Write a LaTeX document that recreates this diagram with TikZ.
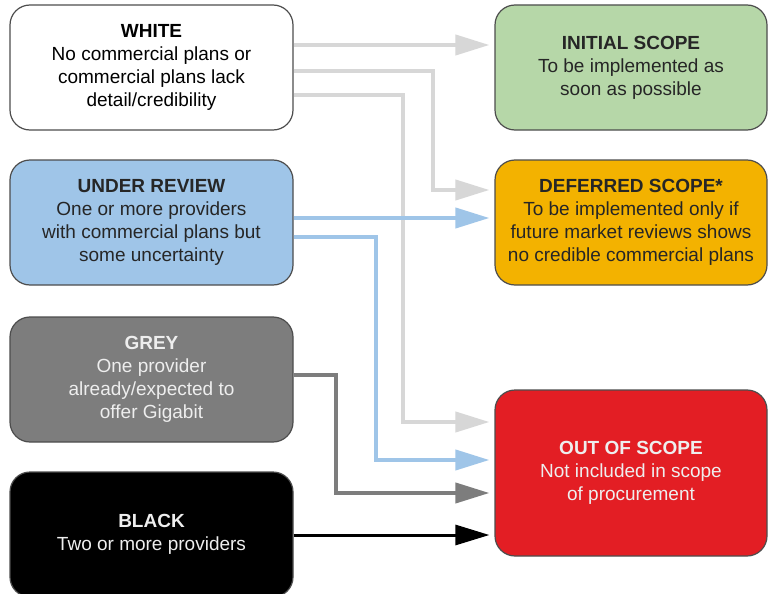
\documentclass[tikz,border=0pt]{standalone}
\usepackage{fontspec}
\setmainfont{Liberation Sans}
\usepackage{tikz}
\usetikzlibrary{arrows.meta, positioning, calc}
\definecolor{cBorder}{RGB}{77, 77, 77}
\definecolor{cWhite}{RGB}{255, 255, 255}
\definecolor{cReview}{RGB}{159, 197, 232}
\definecolor{cGrey}{RGB}{125, 125, 125}
\definecolor{cBlack}{RGB}{0, 0, 0}
\definecolor{cInit}{RGB}{182, 215, 168}
\definecolor{cDefer}{RGB}{243, 178, 0}
\definecolor{cOut}{RGB}{227, 30, 36}
\definecolor{cLight}{RGB}{215, 215, 215}
\definecolor{cPale}{RGB}{238, 238, 238}
\tikzstyle{Area}=[rectangle,
		rounded corners=20pt,
		line width=1.2pt,
		draw=cBorder,
		minimum width=283pt,
		minimum height=125pt,
		inner sep=0pt,
		align=center,
		font=\fontsize{19}{23}\selectfont]
\tikzstyle{Scope}=[Area,
		minimum width=272pt]
\tikzstyle{flow}=[-{Triangle[length=34pt,width=20pt]},shorten >=5pt]
\tikzstyle{flowLight}=[flow,line width=4pt,draw=cLight]
\tikzstyle{flowBlue}=[flow,line width=4pt,draw=cReview]
\tikzstyle{flowGrey}=[flow,line width=4pt,draw=cGrey]
\tikzstyle{flowBlack}=[flow,line width=3pt,draw=cBlack]

\begin{document}
\begin{tikzpicture}[x=1pt,y=-1pt]
  \clip (0,0) rectangle (769,594);
  \fill[white] (0,0) rectangle (769,594);

  % categories
  \node [Area,fill=cWhite] (white) at (151.5,67.5)
    {\textbf{WHITE}\\No commercial plans or\\commercial plans lack\\detail/credibility};
  \node [Area,fill=cReview,text=black!85] (review) at (151.5,222.5)
    {\textbf{UNDER REVIEW}\\One or more providers\\with commercial plans but\\some uncertainty};
  \node [Area,fill=cGrey,text=cPale] (grey) at (151.5,379.5)
    {\textbf{GREY}\\One provider\\already/expected to\\offer Gigabit};
  \node [Area,fill=cBlack,text=cPale] (black) at (151.5,534.5)
    {\textbf{BLACK}\\Two or more providers};

  % scopes
  \node [Scope,fill=cInit,text=black!85] (initial) at (631,67.5)
    {\textbf{INITIAL SCOPE}\\To be implemented as\\soon as possible};
  \node [Scope,fill=cDefer,text=black!85] (deferred) at (631,222.5)
    {\textbf{DEFERRED SCOPE*}\\To be implemented only if\\future market reviews shows\\no credible commercial plans};
  \node [Scope,fill=cOut,text=cPale,minimum height=166pt] (outscope) at (631,473)
    {\textbf{OUT OF SCOPE}\\Not included in scope\\of procurement};

  % arrows
  \draw [flowLight] ($(white.east)+(0,-22.5)$) -- ($(initial.west)+(0,-22.5)$);
  \draw [flowLight] ($(white.east)+(0,3.5)$) -- ++(139,0) |- ($(deferred.west)+(0,-32.5)$);
  \draw [flowLight] ($(white.east)+(0,27.5)$) -- ++(109,0) |- ($(outscope.west)+(0,-51)$);

  \draw [flowBlue] ($(review.east)+(0,-4.5)$) -- ($(deferred.west)+(0,-4.5)$);
  \draw [flowBlue] ($(review.east)+(0,14.5)$) -- ++(82,0) |- ($(outscope.west)+(0,-13)$);

  \draw [flowGrey] ($(grey.east)+(0,-4.5)$) -- ++(42,0) |- ($(outscope.west)+(0,20)$);
  \draw [flowBlack] ($(black.east)+(0,0.5)$) -- ($(outscope.west)+(0,62)$);

\end{tikzpicture}
\end{document}
